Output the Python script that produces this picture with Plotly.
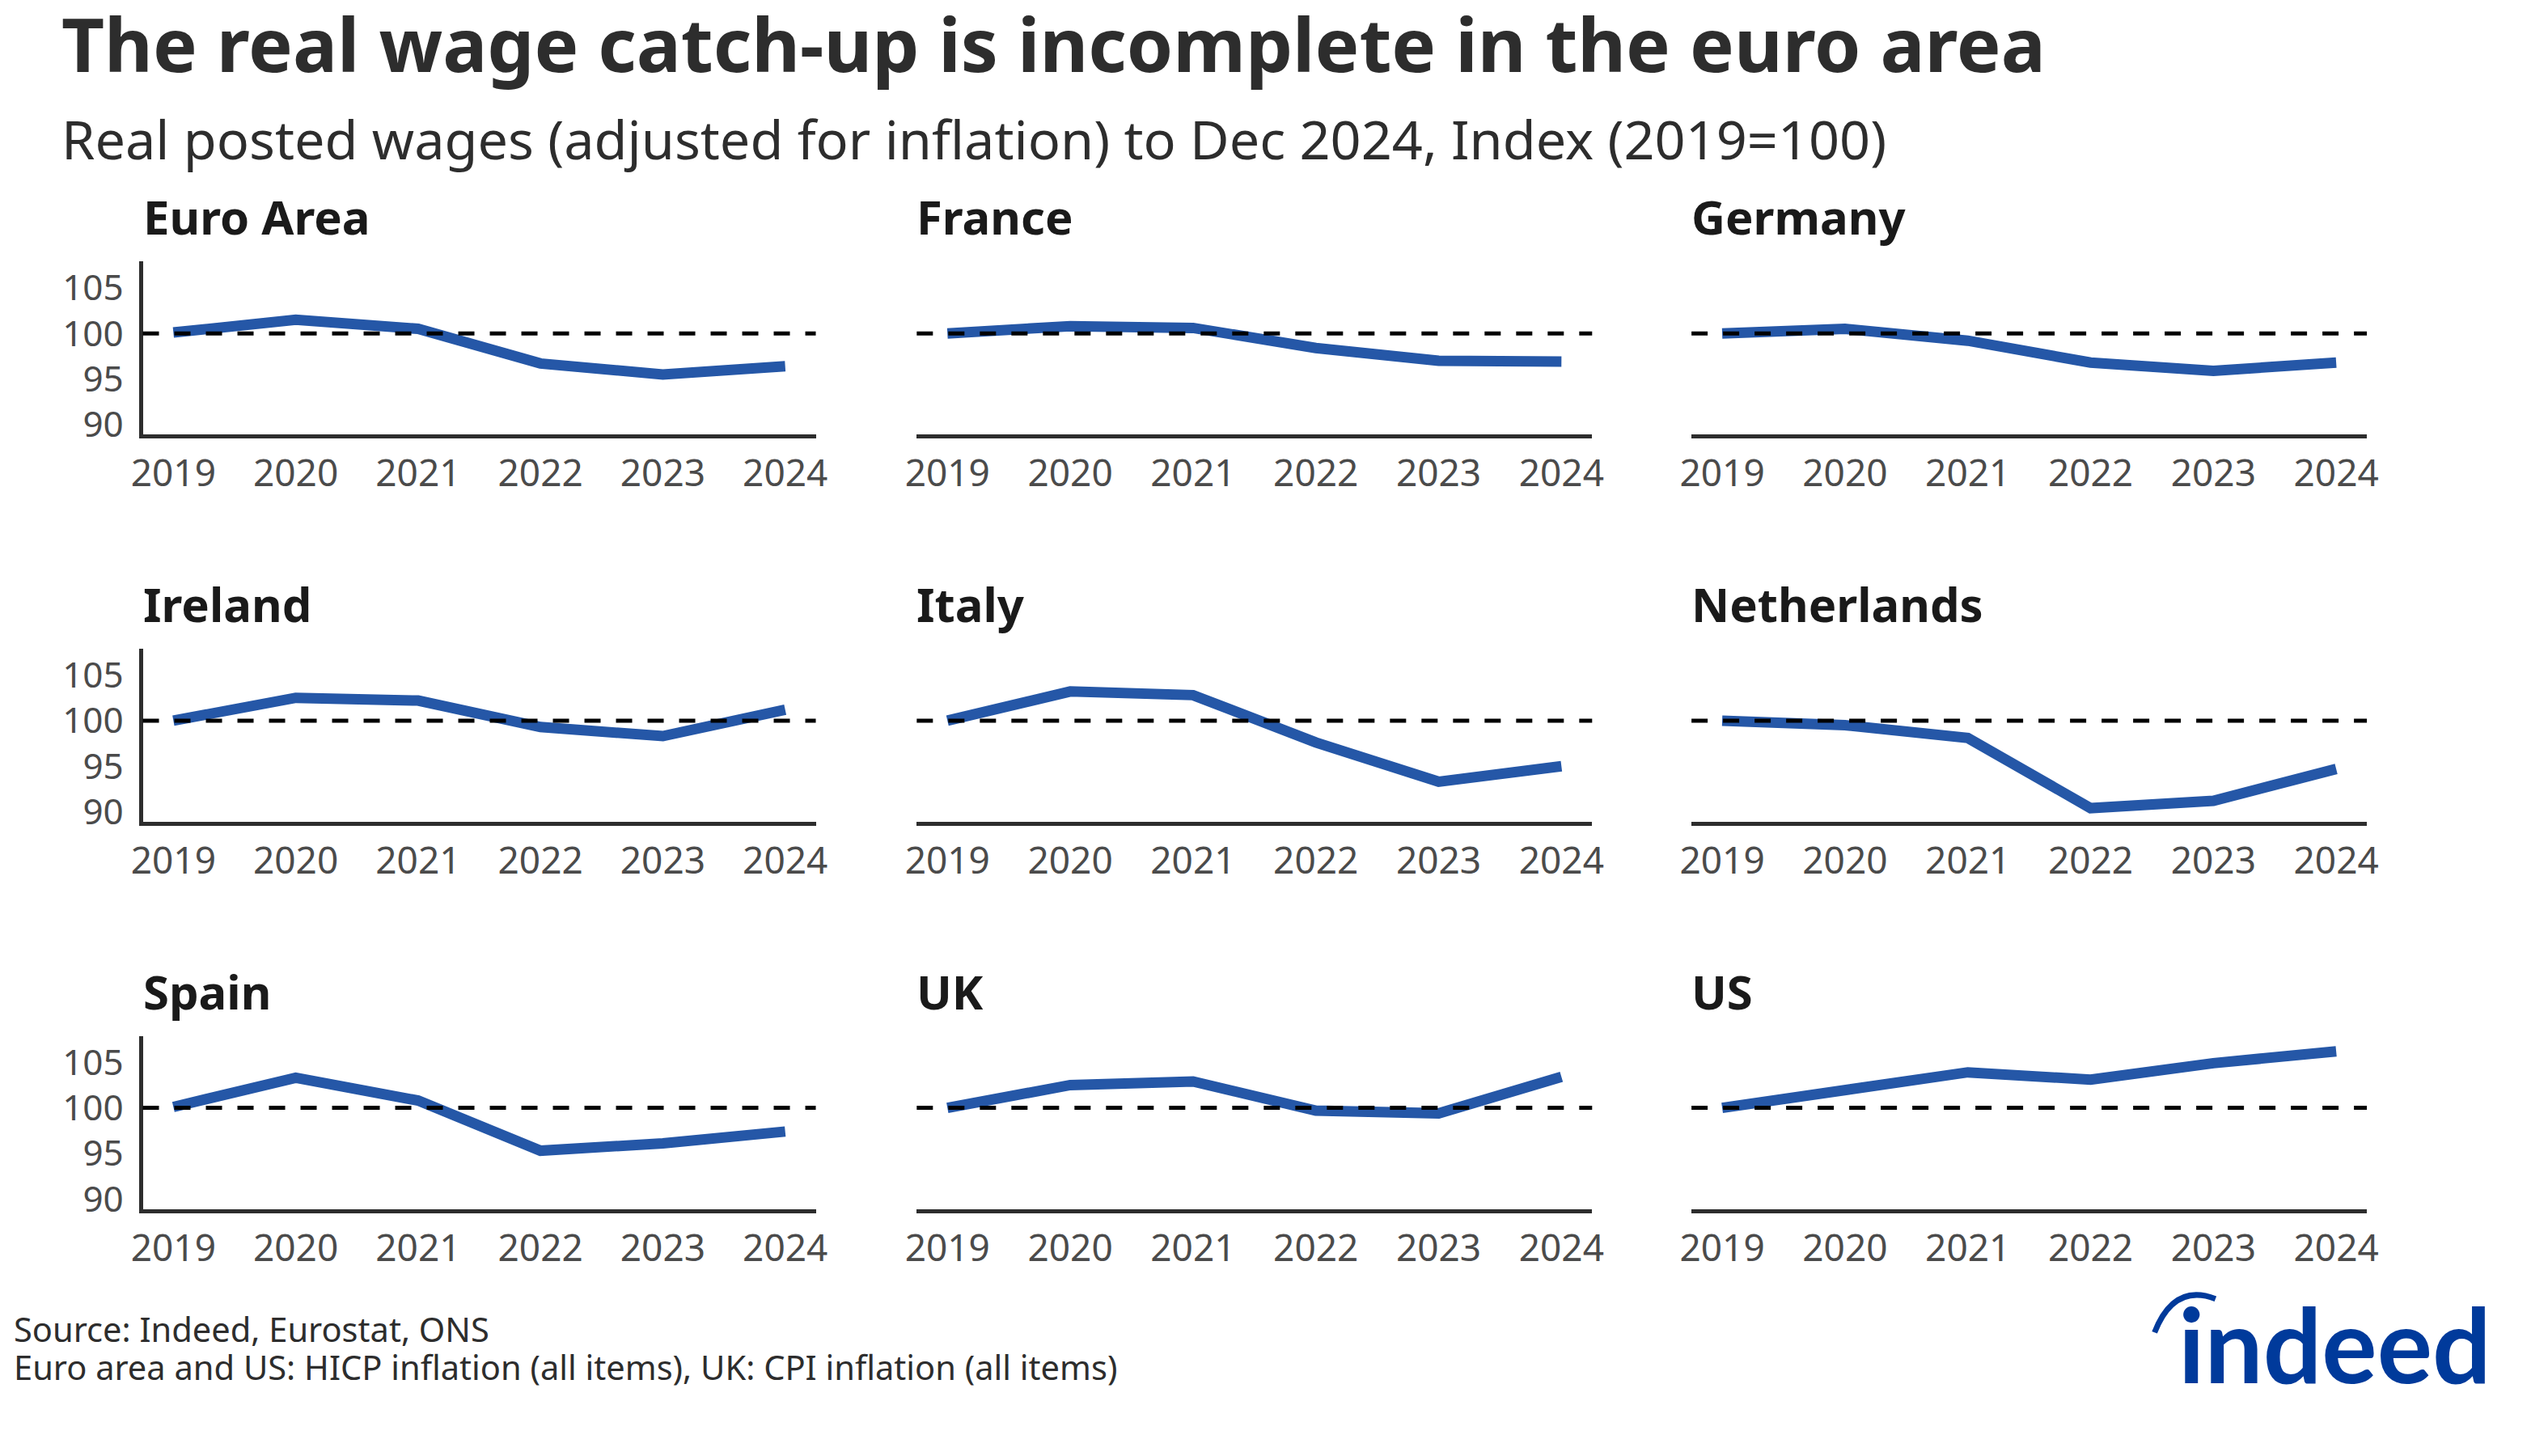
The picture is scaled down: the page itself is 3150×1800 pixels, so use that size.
import plotly.graph_objects as go

W, H = 3150, 1800

years = [2019, 2020, 2021, 2022, 2023, 2024]
countries = ["Euro Area", "France", "Germany", "Ireland", "Italy", "Netherlands", "Spain", "UK", "US"]
euro_area = [100.1, 101.5, 100.5, 96.7, 95.5, 96.4]
france = [100.0, 100.8, 100.6, 98.4, 97.0, 96.9]
germany = [100.0, 100.5, 99.2, 96.8, 95.9, 96.8]
ireland = [100.0, 102.5, 102.2, 99.3, 98.3, 101.2]
italy = [100.0, 103.2, 102.8, 97.6, 93.3, 95.0]
netherlands = [100.0, 99.5, 98.1, 90.4, 91.2, 94.7]
spain = [100.1, 103.3, 100.8, 95.3, 96.1, 97.4]
uk = [100.0, 102.5, 102.9, 99.7, 99.4, 103.4]
us = [100.0, 102.0, 103.9, 103.1, 104.9, 106.2]
series = [euro_area, france, germany, ireland, italy, netherlands, spain, uk, us]
y_ticks = [90, 95, 100, 105]
baseline = 100

title = "The real wage catch-up is incomplete in the euro area"
subtitle = "Real posted wages (adjusted for inflation) to Dec 2024, Index (2019=100)"
footer1 = "Source: Indeed, Eurostat, ONS"
footer2 = "Euro area and US: HICP inflation (all items), UK: CPI inflation (all items)"

FONT = "Noto Sans"
BLUE = "#2557a7"
AXIS = "#2d2d2d"
TICK = "#4b4b4b"

def px(x):
    return x / W

def py(y):
    return 1 - y / H

col_px = [(155, 995), (1121, 1964), (2088, 2931)]
row_bottom = [534, 1017, 1500]
panel_h = 216

fig = go.Figure()
for i, (name, vals) in enumerate(zip(countries, series)):
    r, c = divmod(i, 3)
    k = i + 1
    xa = "x" if k == 1 else f"x{k}"
    ya = "y" if k == 1 else f"y{k}"
    fig.add_trace(go.Scatter(x=years, y=vals, mode="lines", xaxis=xa, yaxis=ya,
                             line=dict(color=BLUE, width=13), showlegend=False,
                             hoverinfo="skip"))
    xd = [px(col_px[c][0]), px(col_px[c][1])]
    yd = [py(row_bottom[r]), py(row_bottom[r] - panel_h)]
    xkey = "xaxis" if k == 1 else f"xaxis{k}"
    ykey = "yaxis" if k == 1 else f"yaxis{k}"
    fig.layout[xkey] = dict(domain=xd, anchor=ya, range=[2018.75, 2024.25],
                            tickvals=years, ticktext=[str(y) for y in years],
                            showline=True, linecolor=AXIS, linewidth=5,
                            showgrid=False, zeroline=False, ticks="",
                            ticklabelstandoff=4,
                            tickfont=dict(family=FONT, size=46, color=TICK))
    first_col = (c == 0)
    fig.layout[ykey] = dict(domain=yd, anchor=xa, range=[88.9, 107.9],
                            tickvals=y_ticks, showline=first_col, linecolor=AXIS,
                            linewidth=5, showticklabels=first_col,
                            showgrid=False, zeroline=False, ticks="",
                            ticklabelstandoff=10,
                            tickfont=dict(family=FONT, size=44, color=TICK))
    fig.add_shape(type="line", xref=f"{xa} domain", yref=ya, x0=0, x1=1,
                  y0=baseline, y1=baseline,
                  line=dict(color="black", width=5, dash="20px,19px"))
    fig.add_annotation(text=name, xref="paper", yref="paper",
                       x=px(col_px[c][0] - 2), y=py(row_bottom[r] - 272),
                       xanchor="left", yanchor="middle", showarrow=False,
                       font=dict(family=FONT, size=58, color="#1a1a1a", weight=700))

fig.add_annotation(text=title, xref="paper", yref="paper", x=px(51), y=py(46),
                   xanchor="left", yanchor="middle", showarrow=False,
                   font=dict(family=FONT, size=92, color=AXIS, weight=700))
fig.add_annotation(text=subtitle, xref="paper", yref="paper", x=px(51), y=py(165),
                   xanchor="left", yanchor="middle", showarrow=False,
                   font=dict(family=FONT, size=66.6, color=AXIS))
fig.add_annotation(text=footer1, xref="paper", yref="paper", x=px(-8), y=py(1650),
                   xanchor="left", yanchor="middle", showarrow=False,
                   font=dict(family=FONT, size=41.6, color=AXIS))
fig.add_annotation(text=footer2, xref="paper", yref="paper", x=px(-8), y=py(1697),
                   xanchor="left", yanchor="middle", showarrow=False,
                   font=dict(family=FONT, size=41.6, color=AXIS))

# Indeed logo
LOGO = "#003a9b"
fig.add_annotation(text="indeed", xref="paper", yref="paper", x=px(2694), y=py(1667),
                   xanchor="left", yanchor="middle", showarrow=False,
                   font=dict(family="Lato", size=128, color=LOGO, weight=700))
fig.add_shape(type="path", xref="paper", yref="paper",
              path=f"M {px(2666)},{py(1654)} Q {px(2690)},{py(1592)} {px(2742)},{py(1612)}",
              line=dict(color=LOGO, width=7))

fig.update_layout(width=W, height=H, margin=dict(l=0, r=0, t=0, b=0),
                  paper_bgcolor="white", plot_bgcolor="white")
fig.write_html("out.html")
